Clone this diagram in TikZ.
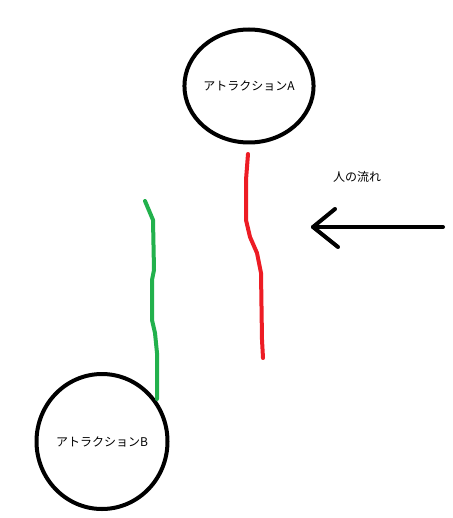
\documentclass[tikz,border=0pt]{standalone}
\usepackage{fontspec}
\newfontfamily\jp{Noto Sans CJK JP}
\usetikzlibrary{shapes.geometric}
\definecolor{paintred}{HTML}{ED1C24}
\definecolor{paintgreen}{HTML}{22B14C}
\begin{document}
\begin{tikzpicture}[x=1pt,y=-1pt,
  attraction/.style={draw=black,line width=4pt,ellipse,inner sep=0pt,font=\jp\fontsize{12}{14}\selectfont},
  lbl/.style={font=\jp\fontsize{12}{14}\selectfont,inner sep=0pt},
  stroke/.style={line width=4pt,line cap=round,line join=round}]
\useasboundingbox (0,0) rectangle (452,518);
\fill[white] (0,0) rectangle (452,518);
\node[attraction,minimum width=124pt,minimum height=113pt] (A) at (249,86) {アトラクションA};
\node[attraction,minimum width=131pt,minimum height=135pt] (B) at (102,441.5) {アトラクションB};
\node[lbl] (flow) at (357,177) {人の流れ};
% red path
\draw[stroke,paintred] (248,154) -- (246,180) -- (246,220) -- (250,237) -- (257,253) -- (261,273) -- (262,340) -- (263,358);
% green path
\coordinate (g0) at (145,201);
\draw[stroke,paintgreen] (g0) -- (153,220) -- (154,270) -- (152,280) -- (152,320) -- (155,333) -- (157,353) -- (157,399);
% arrow
\coordinate (tail) at (443,227);
\coordinate (tip) at (313,227);
\coordinate (h1) at (335,209);
\coordinate (h2) at (338,247);
\draw[stroke,black] (tail) -- (tip);
\draw[stroke,black] (h1) -- (tip) -- (h2);
\end{tikzpicture}
\end{document}
